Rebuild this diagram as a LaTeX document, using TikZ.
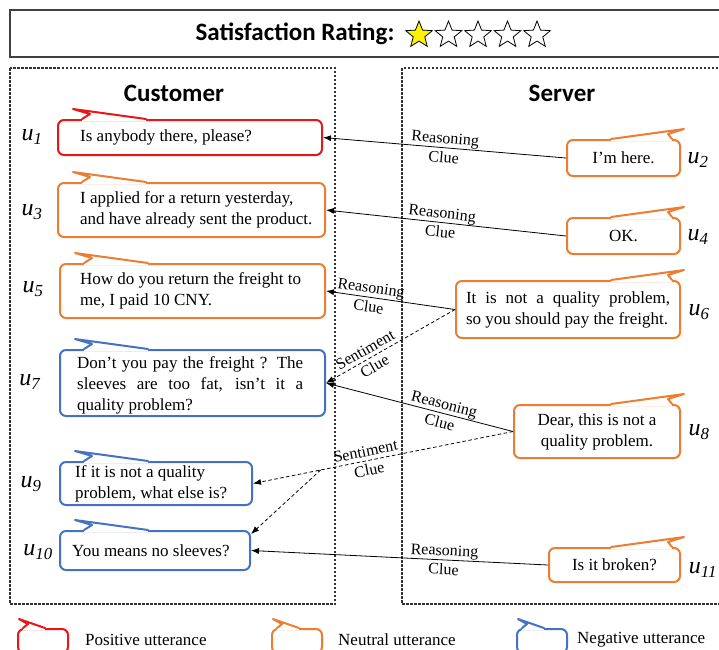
\documentclass[tikz,border=0pt]{standalone}
\usepackage{fontspec}
\setmainfont{Liberation Serif}
\newfontfamily\headfont{Carlito}
\usetikzlibrary{arrows.meta,shapes.geometric}

\definecolor{posred}{RGB}{232,22,22}
\definecolor{neuorange}{RGB}{237,125,49}
\definecolor{negblue}{RGB}{68,114,196}

\begin{document}
\begin{tikzpicture}[x=1pt,y=-1pt,
    bubble/.style={draw, rectangle, rounded corners=6pt, line width=2pt, inner sep=0pt, font=\fontsize{17}{21}\selectfont},
    said/.style={anchor=west, inner sep=0pt, align=left, font=\fontsize{17}{21}\selectfont},
    who/.style={inner sep=0pt, font=\fontsize{24}{24}\selectfont},
    head/.style={inner sep=0pt, font=\headfont\bfseries\fontsize{25}{25}\selectfont},
    side/.style={draw=black!80, line width=1.2pt, dash pattern=on 2.5pt off 1.5pt},
    clue/.style={-{Latex[length=8pt,width=6pt]}, line width=0.8pt},
    senti/.style={clue, dash pattern=on 3.5pt off 2.5pt},
    why/.style={sloped, align=center, inner sep=1pt, font=\fontsize{16}{19}\selectfont},
    rate/.style={star, star points=5, star point ratio=2.3, minimum size=28pt, inner sep=0pt, draw=black, line width=0.8pt}]

  \useasboundingbox (0,0) rectangle (719,649);
  \clip (0,0) rectangle (719,649);

  % rating
  \draw[line width=1.2pt, draw=black!75] (10,10) rectangle (740,57);
  \node[head] (rating) at (295,34) {Satisfaction Rating:};
  \node[rate, fill=yellow] (s1) at (419,35) {};
  \node[rate, fill=white] (s2) at (448.5,35) {};
  \node[rate, fill=white] (s3) at (478,35) {};
  \node[rate, fill=white] (s4) at (507.5,35) {};
  \node[rate, fill=white] (s5) at (537,35) {};

  % two sides
  \draw[side] (10,68) rectangle (335,604);
  \draw[side] (402,68) rectangle (740,604);
  \node[head] (cust) at (174,93) {Customer};
  \node[head] (serv) at (562,93) {Server};

  % customer
  \node[bubble, draw=posred, minimum width=264pt, minimum height=35pt] (u1) at (190,137.5) {};
  \node[bubble, draw=neuorange, minimum width=267pt, minimum height=54pt] (u3) at (191.5,210) {};
  \node[bubble, draw=neuorange, minimum width=265pt, minimum height=54pt] (u5) at (192.5,291) {};
  \node[bubble, draw=negblue, minimum width=265pt, minimum height=66pt] (u7) at (192.5,383) {};
  \node[bubble, draw=negblue, minimum width=192pt, minimum height=43pt] (u9) at (156,483.5) {};
  \node[bubble, draw=negblue, minimum width=190pt, minimum height=39pt] (u10) at (155,550.5) {};

  \node[said] (t1) at (80,137.5) {Is anybody there, please?};
  \node[said] (t3) at (80,210) {I applied for a return yesterday,\\and have already sent the product.};
  \node[said] (t5) at (80,291) {How do you return the freight to\\me, I paid 10 CNY.};
  \node[said, text width=226pt, align=justify] (t7) at (77,385) {Don't you pay the freight ? The\linebreak sleeves are too fat, isn't it a\linebreak quality problem?};
  \node[said] (t9) at (75,483.5) {If it is not a quality\\problem, what else is?};
  \node[said] (t10) at (72,551) {You means no sleeves?};

  % server
  \node[bubble, draw=neuorange, minimum width=113pt, minimum height=36pt] (u2) at (623.5,158) {I'm here.};
  \node[bubble, draw=neuorange, minimum width=113pt, minimum height=36pt] (u4) at (623.5,236) {OK.};
  \node[bubble, draw=neuorange, minimum width=224pt, minimum height=57pt, text width=204pt, align=justify] (u6) at (568,309.5) {It is not a quality problem,\linebreak so you should pay the freight.};
  \node[bubble, draw=neuorange, minimum width=166pt, minimum height=53pt, align=center] (u8) at (597,431.5) {Dear, this is not a\\quality problem.};
  \node[bubble, draw=neuorange, minimum width=131pt, minimum height=34pt] (u11) at (614.5,565) {Is it broken?};

  % tails
  \foreach \n/\c in {u1/posred,u3/neuorange,u5/neuorange,u7/negblue,u9/negblue,u10/negblue}{
    \fill[white] ([xshift=25pt,yshift=-1.6pt]\n.north west) rectangle ([xshift=89pt,yshift=1.6pt]\n.north west);
    \draw[\c, line width=2pt, line cap=round, line join=round] ([xshift=25pt]\n.north west) -- ++(8pt,5pt) -- ++(-17pt,5pt) -- ([xshift=89pt]\n.north west);
  }
  \foreach \n in {u2,u4,u6,u8,u11}{
    \fill[white] ([xshift=-70pt,yshift=-1.6pt]\n.north east) rectangle ([xshift=-9pt,yshift=1.6pt]\n.north east);
    \draw[neuorange, line width=2pt, line cap=round, line join=round] ([xshift=-9pt]\n.north east) -- ++(-4pt,5pt) -- ++(16pt,5pt) -- ([xshift=-70pt]\n.north east);
  }

  % speaker marks
  \node[who] (w1) at (32,137) {\textit{u}\textsubscript{\textit{1}}};
  \node[who] (w3) at (32,212) {\textit{u}\textsubscript{\textit{3}}};
  \node[who] (w5) at (33,289) {\textit{u}\textsubscript{\textit{5}}};
  \node[who] (w7) at (30,382) {\textit{u}\textsubscript{\textit{7}}};
  \node[who] (w9) at (31,484) {\textit{u}\textsubscript{\textit{9}}};
  \node[who] (w10) at (38,552) {\textit{u}\textsubscript{\textit{10}}};
  \node[who] (w2) at (698,160) {\textit{u}\textsubscript{\textit{2}}};
  \node[who] (w4) at (698,237) {\textit{u}\textsubscript{\textit{4}}};
  \node[who] (w6) at (699,312) {\textit{u}\textsubscript{\textit{6}}};
  \node[who] (w8) at (699,432) {\textit{u}\textsubscript{\textit{8}}};
  \node[who] (w11) at (703,570) {\textit{u}\textsubscript{\textit{11}}};

  % clues
  \draw[clue] (u2.west) -- node[why, pos=0.5] {Reasoning\\Clue} (u1.east);
  \draw[clue] (u4.west) -- node[why, pos=0.52] {Reasoning\\Clue} (u3.east);
  \draw[clue] (u6.west) -- node[why, pos=0.66] {Reasoning\\Clue} (u5.east);
  \draw[senti] (u6.west) -- node[why, pos=0.66] {Sentiment\\Clue} (u7.east);
  \draw[clue] (u8.west) -- node[why, pos=0.38] {Reasoning\\Clue} (u7.east);
  \draw[senti] (u8.west) -- node[why, pos=0.56] {Sentiment\\Clue} coordinate[pos=0.74] (fork) (u9.east);
  \draw[senti] (fork) -- ([yshift=-4pt]u10.north east);
  \draw[clue] (u11.west) -- node[why, pos=0.35] {Reasoning\\Clue} (u10.east);

  % legend
  \node[bubble, draw=posred, minimum width=50pt, minimum height=24pt] (k1) at (43,641) {};
  \node[bubble, draw=neuorange, minimum width=50pt, minimum height=24pt] (k2) at (297,641) {};
  \node[bubble, draw=negblue, minimum width=50pt, minimum height=24pt] (k3) at (542,641) {};
  \foreach \n/\c in {k1/posred,k2/neuorange,k3/negblue}{
    \fill[white] ([xshift=6pt,yshift=-1.6pt]\n.north west) rectangle ([xshift=28pt,yshift=1.6pt]\n.north west);
    \draw[\c, line width=2pt, line cap=round, line join=round] ([xshift=6pt]\n.north west) -- ++(5pt,4pt) -- ++(-9pt,5pt) -- ([xshift=28pt]\n.north west);
  }
  \node[said] (p1) at (85,640) {Positive utterance};
  \node[said] (p2) at (338,640) {Neutral utterance};
  \node[said] (p3) at (577,640) {Negative utterance};
\end{tikzpicture}
\end{document}
